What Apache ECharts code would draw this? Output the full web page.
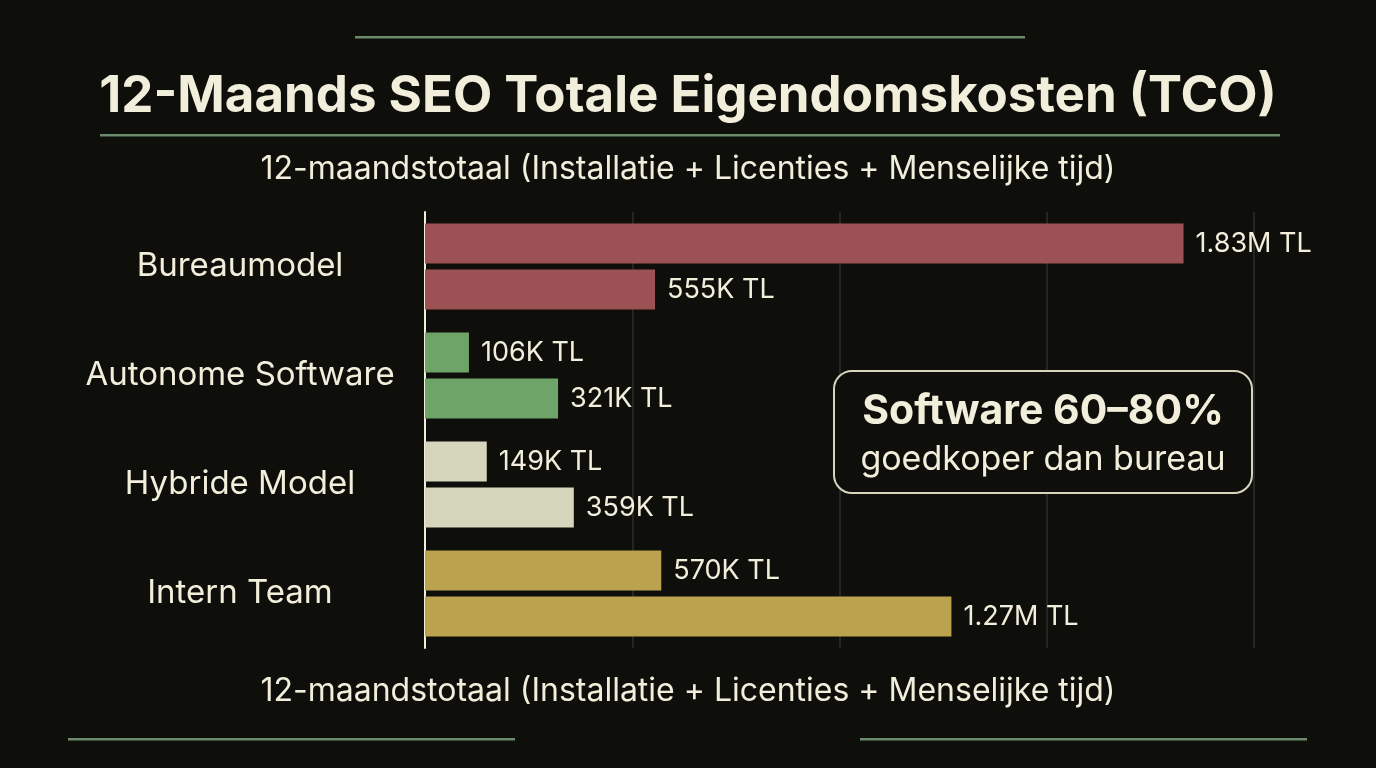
<!DOCTYPE html>
<html>
<head>
<meta charset="utf-8">
<script src="https://cdn.jsdelivr.net/npm/echarts@6/dist/echarts.min.js"></script>
<style>
html,body{margin:0;padding:0;background:#0e0e0a;}
#c{width:1376px;height:768px;}
</style>
</head>
<body>
<div id="c"></div>
<script>
const categories = ['Bureaumodel', 'Autonome Software', 'Hybride Model', 'Intern Team'];
const seriesA = [1830000, 106000, 149000, 570000];
const seriesB = [555000, 321000, 359000, 1270000];
const categoryColors = ['#9c5254', '#6fa468', '#d6d6bc', '#baa24e'];
const xMax = 2000000;
const xInterval = 500000;
const titleText = '12-Maands SEO Totale Eigendomskosten (TCO)';
const subText = '12-maandstotaal (Installatie + Licenties + Menselijke tijd)';
const calloutLines = ['Software 60–80%', 'goedkoper dan bureau'];

const TEXT = '#f2eedc';
const LINE = '#6b8a6b';
const FONT = 'Inter';

function fmt(v) {
  if (v >= 1000000) return (v / 1000000).toFixed(2) + 'M TL';
  return Math.round(v / 1000) + 'K TL';
}

const chart = echarts.init(document.getElementById('c'));

function mkSeries(name, data) {
  return {
    name: name,
    type: 'bar',
    data: data,
    barGap: '15%',
    barCategoryGap: '21%',
    itemStyle: { color: p => categoryColors[p.dataIndex] },
    label: {
      show: true,
      position: 'right',
      distance: 12,
      color: TEXT,
      fontFamily: FONT,
      fontSize: 27,
      formatter: p => fmt(p.value)
    }
  };
}

chart.setOption({
  backgroundColor: '#0e0e0a',
  animation: false,
  title: [
    { text: titleText, left: 'center', top: 66,
      textStyle: { color: TEXT, fontFamily: FONT, fontWeight: 'bold', fontSize: 51 } },
    { text: subText, left: 'center', top: 148,
      textStyle: { color: TEXT, fontFamily: FONT, fontWeight: 'normal', fontSize: 32 } },
    { text: subText, left: 'center', top: 670,
      textStyle: { color: TEXT, fontFamily: FONT, fontWeight: 'normal', fontSize: 32 } }
  ],
  grid: { left: 425, top: 212, width: 829, height: 436, containLabel: false },
  xAxis: {
    type: 'value', min: 0, max: xMax, interval: xInterval,
    axisLabel: { show: false }, axisTick: { show: false }, axisLine: { show: false },
    splitLine: { show: true, lineStyle: { color: '#2f2f28', width: 1.5 } }
  },
  yAxis: {
    type: 'category', data: categories, inverse: true,
    axisTick: { show: false },
    axisLine: { show: true, lineStyle: { color: TEXT, width: 2 } },
    axisLabel: { color: TEXT, fontFamily: FONT, fontSize: 33, align: 'center', margin: 185 }
  },
  series: [mkSeries('A', seriesA), mkSeries('B', seriesB)],
  graphic: [
    { type: 'rect', shape: { x: 355, y: 36, width: 670, height: 2.5 }, style: { fill: LINE } },
    { type: 'rect', shape: { x: 100, y: 134, width: 1180, height: 2.5 }, style: { fill: LINE } },
    { type: 'rect', shape: { x: 68, y: 738, width: 447, height: 2.5 }, style: { fill: LINE } },
    { type: 'rect', shape: { x: 860, y: 738, width: 447, height: 2.5 }, style: { fill: LINE } },
    { type: 'rect', z: 10, shape: { x: 834, y: 371, width: 418, height: 122, r: 18 },
      style: { fill: '#0e0e0a', stroke: '#d8d4bc', lineWidth: 2 } },
    { type: 'text', z: 11, x: 1043, y: 412,
      style: { text: calloutLines[0], fill: TEXT, font: 'bold 41px Inter', textAlign: 'center', textVerticalAlign: 'middle' } },
    { type: 'text', z: 11, x: 1043, y: 460,
      style: { text: calloutLines[1], fill: TEXT, font: '34px Inter', textAlign: 'center', textVerticalAlign: 'middle' } }
  ]
});
</script>
</body>
</html>
